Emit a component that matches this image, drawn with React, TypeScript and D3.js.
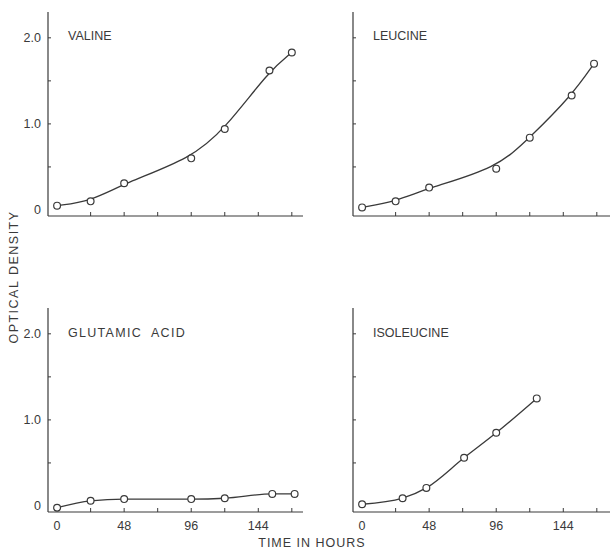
import React, { useEffect, useRef } from 'react';
import * as d3 from 'd3';

// hours after inoculation, optical density
const valineHours = [0, 24, 48, 96, 120, 152, 168];
const valineOD = [0.05, 0.1, 0.31, 0.6, 0.94, 1.62, 1.83];

const leucineHours = [0, 24, 48, 96, 120, 150, 166];
const leucineOD = [0.03, 0.1, 0.26, 0.48, 0.84, 1.33, 1.7];

const glutamicHours = [0, 24, 48, 96, 120, 154, 170];
const glutamicOD = [-0.02, 0.06, 0.08, 0.08, 0.09, 0.14, 0.14];

const isoleucineHours = [0, 29, 46, 73, 96, 125];
const isoleucineOD = [0.02, 0.09, 0.21, 0.56, 0.85, 1.25];

const xTickLabels = [0, 48, 96, 144];
const yTickLabels = [0, 1.0, 2.0];

const panels = [
  { name: 'VALINE', hours: valineHours, od: valineOD, col: 0, row: 0, spacing: 0, curve: d3.curveBasis },
  { name: 'LEUCINE', hours: leucineHours, od: leucineOD, col: 1, row: 0, spacing: 0, curve: d3.curveBasis },
  { name: 'GLUTAMIC  ACID', hours: glutamicHours, od: glutamicOD, col: 0, row: 1, spacing: 1.3, curve: d3.curveMonotoneX },
  { name: 'ISOLEUCINE', hours: isoleucineHours, od: isoleucineOD, col: 1, row: 1, spacing: 0, curve: d3.curveMonotoneX },
];

const App = () => {
  const ref = useRef<SVGSVGElement>(null);

  useEffect(() => {
    const svg = d3.select(ref.current);
    svg.selectAll('*').remove();

    const ink = '#3a3a3a';
    const font = 'Liberation Sans, Arial, sans-serif';
    const panelW = [255, 257];
    const panelH = 204;
    const lefts = [48, 353];
    const tops = [12, 308];

    svg.append('rect').attr('width', 610).attr('height', 549).attr('fill', 'white');

    panels.forEach((p) => {
      const g = svg.append('g')
        .attr('transform', `translate(${lefts[p.col]},${tops[p.row]})`);

      const x = d3.scaleLinear().domain([-6.5, 176]).range([0, 255]);
      const y = d3.scaleLinear().domain([-0.07, 2.3]).range([panelH, 0]);

      // axes lines
      g.append('line').attr('x1', 0).attr('x2', 0).attr('y1', 0).attr('y2', panelH)
        .attr('stroke', ink).attr('stroke-width', 1.2);
      g.append('line').attr('x1', 0).attr('x2', panelW[p.col]).attr('y1', panelH).attr('y2', panelH)
        .attr('stroke', ink).attr('stroke-width', 1.2);

      // x ticks every 24 h, pointing up
      d3.range(24, 169, 24).forEach((h) => {
        g.append('line').attr('x1', x(h)).attr('x2', x(h))
          .attr('y1', panelH).attr('y2', panelH - 4)
          .attr('stroke', ink).attr('stroke-width', 1);
      });

      // y ticks every 0.5, pointing right
      [0.5, 1.0, 1.5, 2.0].forEach((v) => {
        g.append('line').attr('x1', 0).attr('x2', 3)
          .attr('y1', y(v)).attr('y2', y(v))
          .attr('stroke', ink).attr('stroke-width', 1);
      });

      if (p.col === 0) {
        yTickLabels.forEach((v) => {
          g.append('text')
            .attr('x', -7).attr('y', y(v) + 4)
            .attr('text-anchor', 'end')
            .attr('font-family', font).attr('font-size', 12.5)
            .attr('fill', ink)
            .text(v === 0 ? '0' : v.toFixed(1));
        });
      }

      if (p.row === 1) {
        xTickLabels.forEach((h) => {
          g.append('text')
            .attr('x', x(h)).attr('y', panelH + 18)
            .attr('text-anchor', 'middle')
            .attr('font-family', font).attr('font-size', 12.5)
            .attr('fill', ink)
            .text(h);
        });
      }

      // panel title
      g.append('text')
        .attr('x', 20).attr('y', p.row === 0 ? 28 : 29)
        .attr('font-family', font).attr('font-size', 12.5)
        .attr('letter-spacing', p.spacing)
        .attr('fill', ink)
        .style('white-space', 'pre')
        .text(p.name);

      const data = p.hours.map((h, i) => ({ h, v: p.od[i] }));

      g.append('path')
        .datum(data)
        .attr('fill', 'none')
        .attr('stroke', ink)
        .attr('stroke-width', 1.3)
        .attr('d', d3.line<{ h: number; v: number }>()
          .x((d) => x(d.h))
          .y((d) => y(d.v))
          .curve(p.curve));

      g.selectAll('circle.pt')
        .data(data)
        .enter()
        .append('circle')
        .attr('cx', (d) => x(d.h))
        .attr('cy', (d) => y(d.v))
        .attr('r', 3.4)
        .attr('fill', 'white')
        .attr('stroke', ink)
        .attr('stroke-width', 1.2);
    });

    // shared axis titles
    svg.append('text')
      .attr('transform', 'translate(18,277) rotate(-90)')
      .attr('text-anchor', 'middle')
      .attr('font-family', font).attr('font-size', 12.5)
      .attr('letter-spacing', 1.5)
      .attr('fill', ink)
      .text('OPTICAL DENSITY');

    svg.append('text')
      .attr('x', 312).attr('y', 547)
      .attr('text-anchor', 'middle')
      .attr('font-family', font).attr('font-size', 12.5)
      .attr('letter-spacing', 1)
      .attr('fill', ink)
      .text('TIME IN HOURS');
  }, []);

  return (
    <svg ref={ref} width={610} height={549}
      style={{ position: 'absolute', left: 0, top: 0, display: 'block' }} />
  );
};

export default App;
